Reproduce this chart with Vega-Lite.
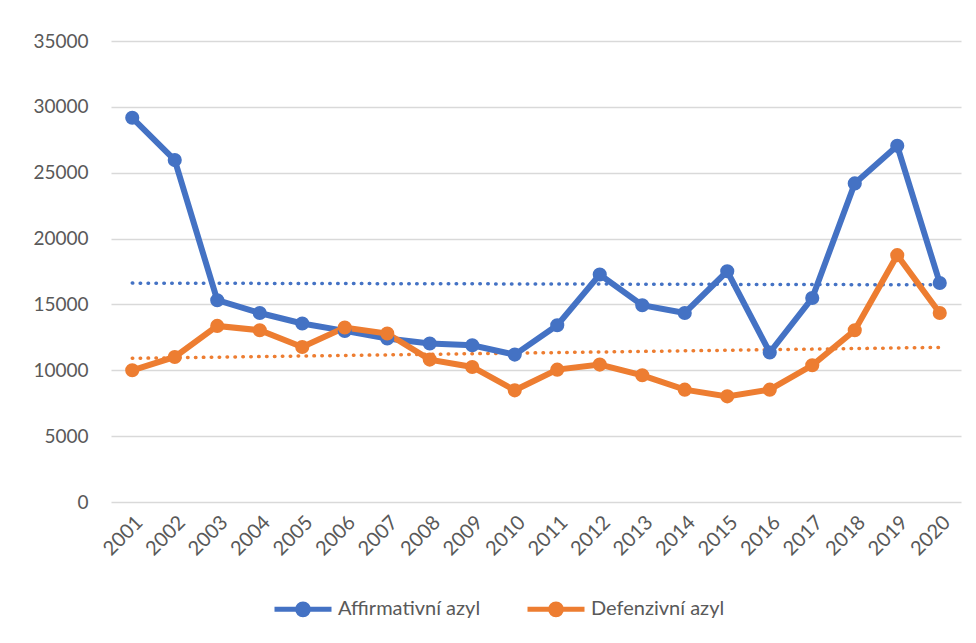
{
  "$schema": "https://vega.github.io/schema/vega-lite/v6.json",
  "autosize": "none",
  "width": 850,
  "height": 461,
  "padding": {"left": 111, "top": 41, "right": 15, "bottom": 141},
  "background": "white",
  "config": {
    "view": {"stroke": null},
    "font": "Lato",
    "axis": {"labelFont": "Lato", "labelColor": "#595959", "labelFontSize": 19}
  },
  "data": {
    "values": [
      {"year": 2001, "series": "Affirmativní azyl", "value": 29170},
      {"year": 2002, "series": "Affirmativní azyl", "value": 25960},
      {"year": 2003, "series": "Affirmativní azyl", "value": 15320},
      {"year": 2004, "series": "Affirmativní azyl", "value": 14350},
      {"year": 2005, "series": "Affirmativní azyl", "value": 13550},
      {"year": 2006, "series": "Affirmativní azyl", "value": 12990},
      {"year": 2007, "series": "Affirmativní azyl", "value": 12410},
      {"year": 2008, "series": "Affirmativní azyl", "value": 12030},
      {"year": 2009, "series": "Affirmativní azyl", "value": 11900},
      {"year": 2010, "series": "Affirmativní azyl", "value": 11190},
      {"year": 2011, "series": "Affirmativní azyl", "value": 13420},
      {"year": 2012, "series": "Affirmativní azyl", "value": 17270},
      {"year": 2013, "series": "Affirmativní azyl", "value": 14940},
      {"year": 2014, "series": "Affirmativní azyl", "value": 14350},
      {"year": 2015, "series": "Affirmativní azyl", "value": 17520},
      {"year": 2016, "series": "Affirmativní azyl", "value": 11350},
      {"year": 2017, "series": "Affirmativní azyl", "value": 15490},
      {"year": 2018, "series": "Affirmativní azyl", "value": 24190},
      {"year": 2019, "series": "Affirmativní azyl", "value": 27040},
      {"year": 2020, "series": "Affirmativní azyl", "value": 16630},
      {"year": 2001, "series": "Defenzivní azyl", "value": 10000},
      {"year": 2002, "series": "Defenzivní azyl", "value": 11010},
      {"year": 2003, "series": "Defenzivní azyl", "value": 13370},
      {"year": 2004, "series": "Defenzivní azyl", "value": 13040},
      {"year": 2005, "series": "Defenzivní azyl", "value": 11770},
      {"year": 2006, "series": "Defenzivní azyl", "value": 13250},
      {"year": 2007, "series": "Defenzivní azyl", "value": 12790},
      {"year": 2008, "series": "Defenzivní azyl", "value": 10810},
      {"year": 2009, "series": "Defenzivní azyl", "value": 10250},
      {"year": 2010, "series": "Defenzivní azyl", "value": 8480},
      {"year": 2011, "series": "Defenzivní azyl", "value": 10050},
      {"year": 2012, "series": "Defenzivní azyl", "value": 10430},
      {"year": 2013, "series": "Defenzivní azyl", "value": 9620},
      {"year": 2014, "series": "Defenzivní azyl", "value": 8530},
      {"year": 2015, "series": "Defenzivní azyl", "value": 8020},
      {"year": 2016, "series": "Defenzivní azyl", "value": 8530},
      {"year": 2017, "series": "Defenzivní azyl", "value": 10380},
      {"year": 2018, "series": "Defenzivní azyl", "value": 13040},
      {"year": 2019, "series": "Defenzivní azyl", "value": 18740},
      {"year": 2020, "series": "Defenzivní azyl", "value": 14350}
    ]
  },
  "encoding": {
    "x": {
      "field": "year", "type": "quantitative",
      "scale": {"domain": [2000.5, 2020.5], "nice": false, "zero": false},
      "axis": {
        "title": null, "grid": false, "ticks": false, "domain": false,
        "values": [2001,2002,2003,2004,2005,2006,2007,2008,2009,2010,2011,2012,2013,2014,2015,2016,2017,2018,2019,2020],
        "format": "d", "labelAngle": -45, "labelPadding": 10, "labelOverlap": false, "labelFontSize": 20
      }
    },
    "y": {
      "field": "value", "type": "quantitative",
      "scale": {"domain": [0, 35000], "nice": false},
      "axis": {
        "title": null, "ticks": false, "domain": false,
        "values": [0,5000,10000,15000,20000,25000,30000,35000],
        "format": "d", "labelPadding": 23,
        "gridColor": "#d9d9d9", "gridWidth": 1.5
      }
    },
    "color": {
      "field": "series", "type": "nominal",
      "scale": {"domain": ["Affirmativní azyl", "Defenzivní azyl"], "range": ["#4472C4", "#ED7D31"]},
      "legend": {
        "title": null, "orient": "none", "direction": "horizontal",
        "legendX": 161, "legendY": 537,
        "symbolType": "M-1,0L1,0M-0.19,0A0.19,0.19,0,1,1,0.19,0A0.19,0.19,0,1,1,-0.19,0Z",
        "symbolSize": 3249, "symbolStrokeWidth": 5,
        "labelFont": "Lato", "labelFontSize": 20, "labelColor": "#595959",
        "labelOffset": 4, "columnPadding": 36,
        "encode": {"symbols": {"update": {"fill": {"scale": "color", "field": "value"}, "fillOpacity": {"value": 1}}}}
      }
    }
  },
  "layer": [
    {
      "transform": [{"regression": "value", "on": "year", "groupby": ["series"], "extent": [2001, 2020]}],
      "mark": {"type": "line", "strokeWidth": 3.5, "strokeDash": [0.5, 7.4], "strokeCap": "round"}
    },
    {
      "mark": {"type": "line", "strokeWidth": 6, "point": {"filled": true, "size": 200, "opacity": 1}}
    }
  ]
}
